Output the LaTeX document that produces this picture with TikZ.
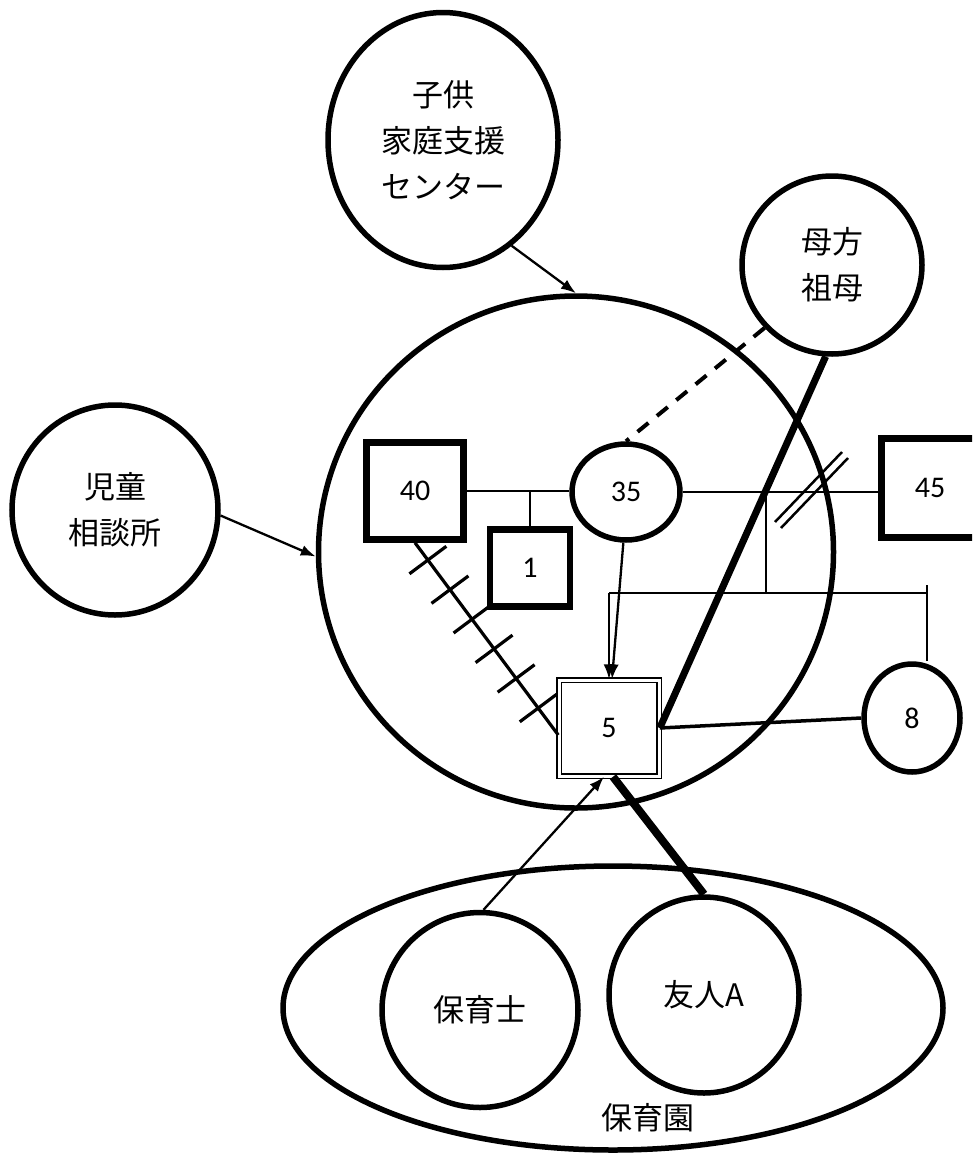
\documentclass[tikz,border=0pt]{standalone}
\usepackage{fontspec}
\newfontfamily\jp{Noto Sans CJK JP}
\newfontfamily\num{Carlito}
\usetikzlibrary{arrows.meta,shapes.geometric,decorations.markings}
\begin{document}
\begin{tikzpicture}[x=1pt,y=-1pt,
  circ/.style={draw,ellipse,line width=5.5pt,inner sep=0pt,align=center,font=\jp\fontsize{31}{46}\selectfont},
  sq/.style={draw,rectangle,line width=6.5pt,inner sep=0pt,font=\num\fontsize{30}{32}\selectfont},
  ov/.style={draw,ellipse,line width=5.5pt,inner sep=0pt,font=\num\fontsize{30}{32}\selectfont},
  dbl/.style={draw,rectangle,double=white,double distance=3pt,line width=1.5pt,inner sep=0pt,font=\num\fontsize{30}{32}\selectfont},
  thinline/.style={line width=2pt},
  arr/.style={line width=2.3pt,-{Latex[length=15pt,width=11pt]}},
  hatch/.style={line width=3.2pt,postaction={decorate},
    decoration={markings,mark=between positions 0.09 and 0.9 step 0.154 with {\draw[line width=3.2pt] (0pt,-23pt) -- (0pt,23pt);}}}
]
\path[use as bounding box] (0,0) rectangle (972,1154);
\clip (0,0) rectangle (972,1154);

% outer groups
\node[circ,minimum width=515pt,minimum height=512pt] (big) at (576,552) {};
\node[circ,minimum width=660pt,minimum height=284pt] (hoikuen) at (613,1008) {};
\node[font=\jp\fontsize{31}{46}\selectfont] (hoikuenlbl) at (648,1118) {保育園};

% external circles
\node[circ,minimum width=230pt,minimum height=255pt] (kodomo) at (443,140) {子供\\家庭支援\\センター};
\node[circ,minimum width=206pt,minimum height=210pt] (jido) at (115,510) {児童\\相談所};
\node[circ,minimum width=180pt,minimum height=178pt] (sobo) at (832,265) {母方\\祖母};
\node[circ,minimum width=196pt,minimum height=195pt] (hoikushi) at (480,1010) {保育士};
\node[circ,minimum width=190pt,minimum height=196pt] (yujin) at (704,995) {友人A};

% family
\node[sq,minimum width=97pt,minimum height=97pt] (b40) at (415,491) {40};
\node[ov,minimum width=108pt,minimum height=96pt] (c35) at (626,492) {35};
\node[sq,minimum width=80pt,minimum height=77pt] (b1) at (530,568) {1};
\node[sq,minimum width=97pt,minimum height=99pt] (b45) at (930,488) {45};
\node[ov,minimum width=96pt,minimum height=108pt] (c8) at (912,718) {8};
\node[dbl,minimum width=100pt,minimum height=96pt] (b5) at (609,728) {5};

% arrows into the family circle
\draw[arr] (kodomo.-57) -- (big.90);
\draw[arr] (jido.-3) -- (big.181);

% marriage lines
\draw[thinline] (b40.east) -- (b40.east -| c35.west);
\draw[thinline] (b1.north) -- (b1.north |- b40.east);
\draw[thinline] (c35.east) -- (c35.east -| b45.west);
\draw[line width=2.5pt] (775,522) -- (842,452);
\draw[line width=2.5pt] (781,528) -- (848,458);

% children of 35 and 45
\coordinate (sib) at (766,593);
\coordinate (hl) at (609,593);
\coordinate (hr) at (927,593);
\draw[thinline] (sib) -- (sib |- c35.east);
\draw[thinline] (hl) -- (hr);
\draw[thinline] ([yshift=8pt]hr) -- (hr |- c8.north);
\draw[arr] (hl) -- (hl |- b5.north);
\draw[arr] (c35.-93) -- ([xshift=3pt]b5.north);

% relations
\draw[line width=7pt] (sobo.-94) -- (b5.east);
\draw[line width=4pt,dash pattern=on 14pt off 11pt] (sobo.-137) -- (c35.north);
\draw[line width=3.5pt] (b5.east) -- (c8.west);
\draw[hatch] (b40.south) -- ([yshift=-7pt]b5.west);
\draw[arr] (hoikushi.88) -- ([xshift=-5pt]b5.south);
\draw[line width=8pt] (yujin.north) -- ([xshift=4pt]b5.south);
\end{tikzpicture}
\end{document}
